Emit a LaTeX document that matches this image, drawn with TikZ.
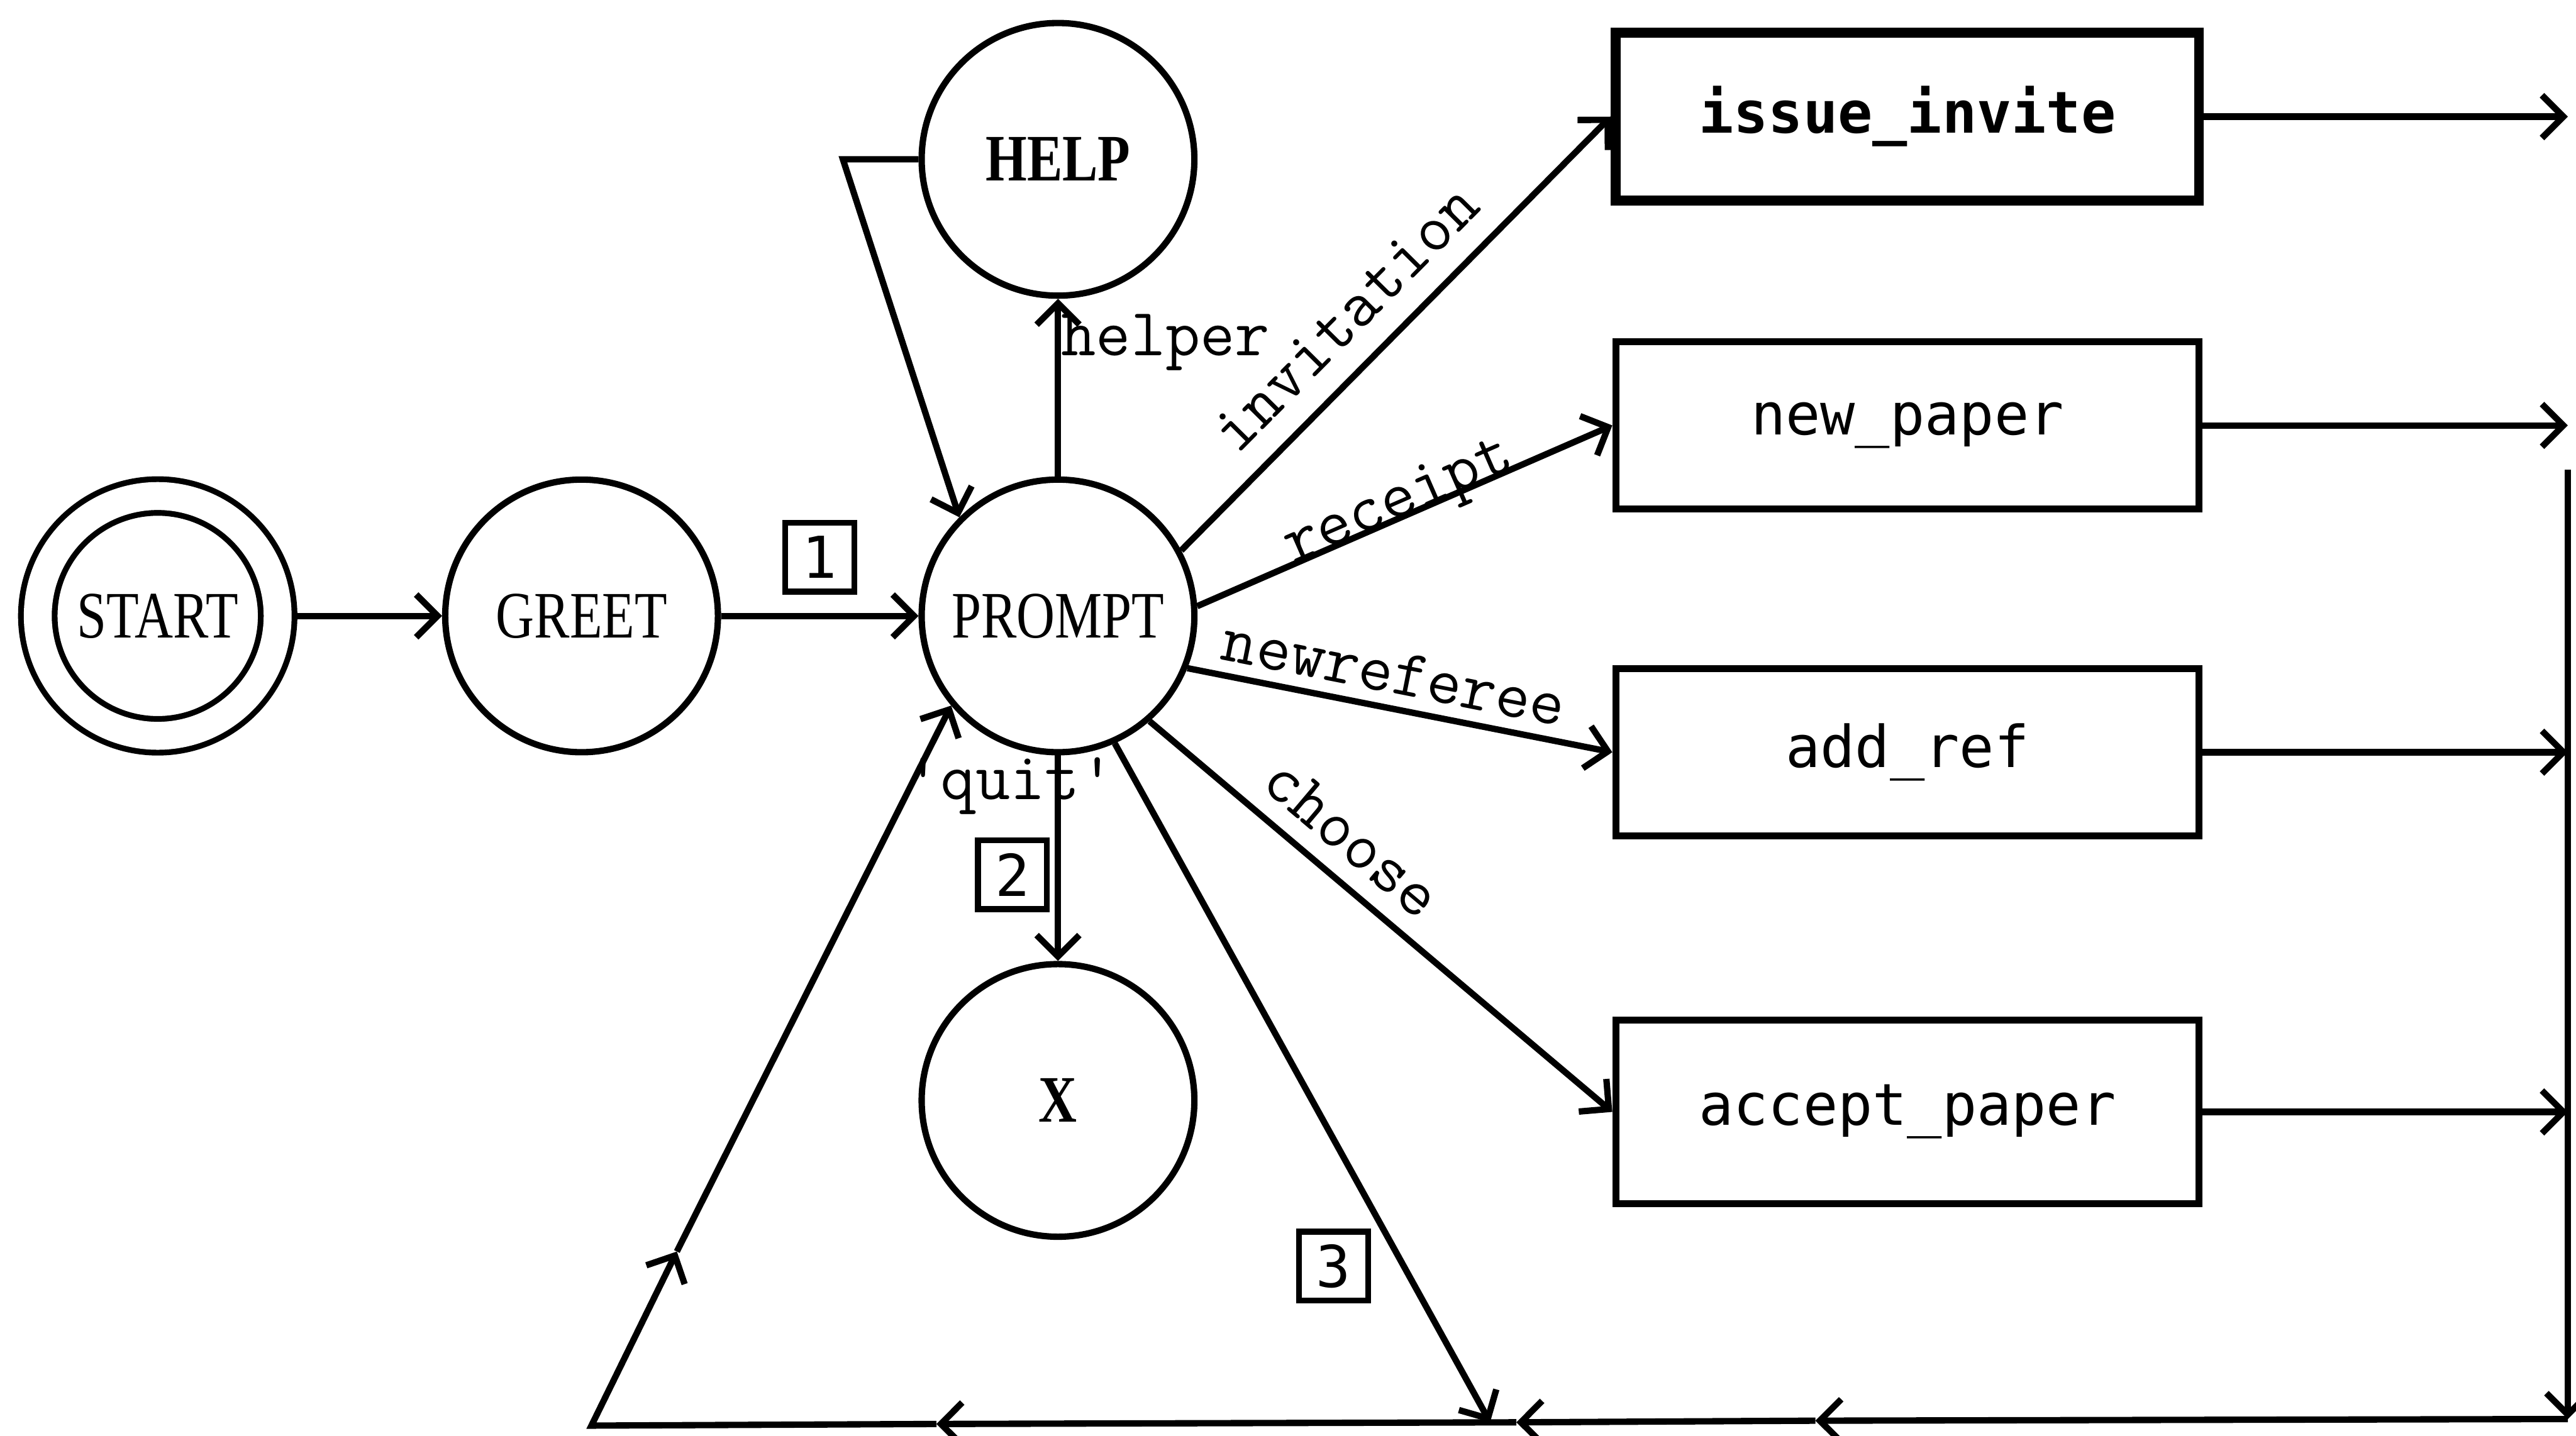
\documentclass[tikz,border=0pt]{standalone}
\usepackage{fontspec}
\newfontfamily\statefont[FakeStretch=0.8]{Liberation Serif}
\newfontfamily\boxfont{DejaVu Sans Mono}
\usetikzlibrary{automata,arrows.meta,positioning}

\begin{document}
\begin{tikzpicture}[node distance=2cm,on grid,
    every state/.style={draw,line width=1.1pt,minimum size=1.66cm,inner sep=0pt,
      font=\statefont\fontsize{11.5}{13}\selectfont},
    startstate/.style={double,double distance=0.17cm,line width=1pt,minimum size=1.46cm,outer sep=0.12cm},
    boldstate/.style={font=\statefont\bfseries\fontsize{11.5}{13}\selectfont},
    task/.style={draw,rectangle,line width=1.2pt,minimum width=3.55cm,minimum height=1.02cm,
      font=\boxfont\fontsize{10}{12}\selectfont},
    numbox/.style={draw,rectangle,line width=1pt,minimum size=0.42cm,inner sep=0pt,
      font=\boxfont\fontsize{10}{12}\selectfont},
    lbl/.style={font=\ttfamily\fontsize{11.7}{13}\selectfont,inner sep=0pt},
    arr/.style={line width=1.1pt,-{Straight Barb[length=1.3mm,width=2.6mm]}}]
        \useasboundingbox (0,0) rectangle (15.68,-8.74);

        % states
        \node[state,startstate] (s_start) at (0.96,-3.75) {START};
        \node[state] (s_greet) [right=2.58 of s_start] {GREET};
        \node[state] (s_prompt) [right=2.90 of s_greet] {PROMPT};
        \node[state,boldstate] (s_help) [above=2.78 of s_prompt] {HELP};
        \node[state,boldstate] (s_x) [below=2.95 of s_prompt] {X};

        % actions
        \node[task,line width=1.7pt,font=\boxfont\bfseries\fontsize{10}{12}\selectfont] (b_invite) [above right=3.04 and 5.17 of s_prompt] {issue\_invite};
        \node[task] (b_paper) [below=1.88 of b_invite] {new\_paper};
        \node[task] (b_ref) [below=1.99 of b_paper] {add\_ref};
        \node[task,minimum height=1.12cm] (b_accept) [below=2.19 of b_ref] {accept\_paper};

        % return path
        \coordinate (bus_top) at (15.63,-2.86);
        \coordinate (bus_bot) at (15.63,-8.64);
        \coordinate (c_1) at (11.05,-8.65);
        \coordinate (c_2) at (9.23,-8.66);
        \coordinate (c_join) at (9.07,-8.66);
        \coordinate (c_3) at (5.70,-8.67);
        \coordinate (c_corner) at (3.60,-8.68);
        \coordinate (c_up) at (4.12,-7.62);

         \path[arr]
         (s_start) edge (s_greet)
         (s_greet) edge node[numbox,above=0.13cm] (n_1) {1} (s_prompt)
         (s_prompt) edge node[lbl,pos=0.68,anchor=base west] (l_helper) {helper} (s_help)
         (s_prompt) edge node[lbl,pos=0.15,anchor=center,xshift=-0.29cm] (l_quit) {'quit'}
                         node[numbox,pos=0.58,left=0.05cm] (n_2) {2} (s_x)
         (s_prompt.28) edge node[lbl,sloped,pos=0.46,anchor=south,inner sep=4pt] (l_invite) {invitation} (b_invite.west)
         (s_prompt.4) edge node[lbl,sloped,pos=0.5,anchor=base] (l_receipt) {receipt} (b_paper.west)
         (s_prompt.-22) edge node[lbl,sloped,pos=0.47,anchor=south,inner sep=2pt] (l_newref) {newreferee} (b_ref.west)
         (s_prompt.-49) edge node[lbl,sloped,pos=0.38,anchor=south,inner sep=3pt] (l_choose) {choose} (b_accept.west)
         (s_prompt.-66) edge node[numbox,pos=0.77,left=0.2cm] (n_3) {3} (c_join);

        \draw[arr] (s_help.west) -- ++(-0.46,0) -- (s_prompt.135);

        \draw[arr] (b_invite) -- (b_invite -| bus_bot);
        \draw[arr] (b_paper) -- (b_paper -| bus_bot);
        \draw[arr] (b_ref) -- (b_ref -| bus_bot);
        \draw[arr] (b_accept) -- (b_accept -| bus_bot);
        \draw[arr] (bus_top) -- (bus_bot);
        \draw[arr] (bus_bot) -- (c_1);
        \draw[arr] (c_1) -- (c_2);
        \draw[arr] (c_2) -- (c_3);
        \draw[arr] (c_3) -- (c_corner) -- (c_up);
        \draw[arr] (c_up) -- (s_prompt.220);
\end{tikzpicture}
\end{document}
